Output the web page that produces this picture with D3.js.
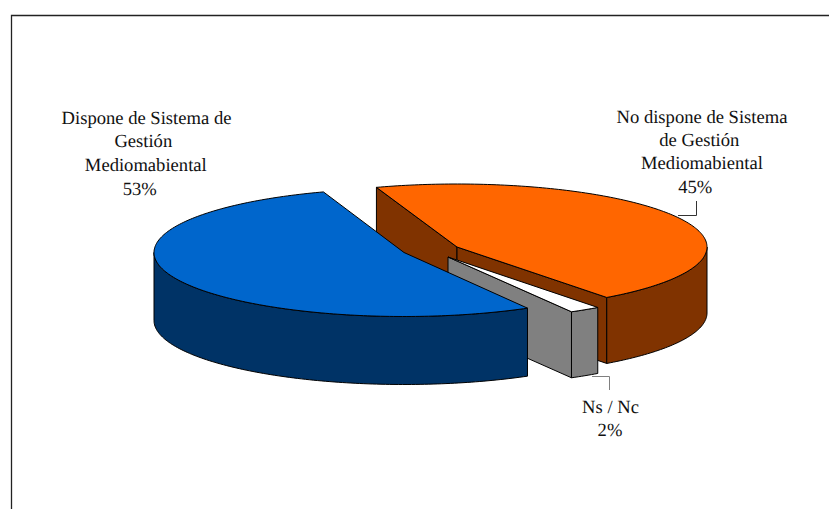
<!DOCTYPE html>
<html><head><meta charset="utf-8">
<script src="https://cdn.jsdelivr.net/npm/d3@7/dist/d3.min.js"></script>
<style>html,body{margin:0;background:#fff}svg{display:block}text{font-family:"Liberation Serif",serif;font-size:18.6px;fill:#111;text-rendering:geometricPrecision}</style>
</head><body><div id="c"></div>
<script>
const categories = ["No dispone", "Ns / Nc", "Dispone"];
const values = [45, 2, 53];
const labelLines = [
  ["No dispone de Sistema", "de Gestión", "Mediomabiental", "45%"],
  ["Ns / Nc", "2%"],
  ["Dispone de Sistema de", "Gestión", "Mediomabiental", "53%"]
];
const topColors = ["#FF6600", "#FFFFFF", "#0066CC"];
const wallColors = ["#803300", "#808080", "#003366"];

const W = 829, H = 509, rx = 250;
const centres = [[457, 247], [448, 257], [404, 252.5]];
const radiiY = [63, 63, 64];
const depths = [66, 66, 68];
const labelX = [[702, 699.3, 702, 695.3], [610.5, 610], [146.5, 143.3, 145.8, 139.7]];
const labelY = [122.8, 413, 123.5];
const lineSteps = [23.3, 23, 23.7];
const rad = Math.PI / 180;

const svg = d3.select("#c").append("svg").attr("width", W).attr("height", H);

// chart frame (runs off the right and bottom of the picture)
svg.append("path").attr("d", d3.line()([[11.5, H + 2], [11.5, 15.5], [W + 2, 15.5]]))
  .attr("fill", "none").attr("stroke", "#222").attr("stroke-width", 1.3);

const arcs = d3.pie().sort(null).startAngle(-18.8 * rad).endAngle(341.2 * rad)(values);

// each slice gets its own scales: unit-circle coordinates to pixels
const scales = centres.map(([cx, cy], i) => ({
  x: d3.scaleLinear().domain([-1, 1]).range([cx - rx, cx + rx]),
  y: d3.scaleLinear().domain([-1, 1]).range([cy - radiiY[i], cy + radiiY[i]])
}));
const pt = (i, ang, drop = 0) => [scales[i].x(Math.sin(ang)), scales[i].y(-Math.cos(ang)) + drop];
const rimAngles = (a0, a1) => { const n = Math.max(2, Math.ceil((a1 - a0) / (1 * rad))); return d3.range(n + 1).map(k => a0 + (a1 - a0) * k / n); };
const apex = (i, drop = 0) => [scales[i].x(0), scales[i].y(0) + drop];
const line = d3.line();
const closed = pts => line(pts) + "Z";

function shape(g, d, fill) {
  g.append("path").attr("d", d).attr("fill", fill).attr("stroke", "#000")
    .attr("stroke-width", 1).attr("stroke-linejoin", "round");
}
function cutWall(g, i, ang) {
  shape(g, closed([apex(i), pt(i, ang), pt(i, ang, depths[i]), apex(i, depths[i])]), wallColors[i]);
}
function rimWall(g, i, a0, a1) {
  const as = rimAngles(a0, a1);
  shape(g, closed([...as.map(a => pt(i, a)), ...as.slice().reverse().map(a => pt(i, a, depths[i]))]), wallColors[i]);
}
function topFace(g, i, a0, a1) {
  shape(g, closed([apex(i), ...rimAngles(a0, a1).map(a => pt(i, a))]), topColors[i]);
}

// painter's order: orange, then the small wedge, then blue in front
const order = [0, 1, 2];
order.forEach(i => {
  const g = svg.append("g").attr("class", "slice").attr("data-cat", categories[i]);
  const a0 = arcs[i].startAngle, a1 = arcs[i].endAngle;
  if (i === 0) { cutWall(g, i, a0); cutWall(g, i, a1); rimWall(g, i, 90 * rad, a1); }
  if (i === 1) { cutWall(g, i, a1); rimWall(g, i, a0, a1); }
  if (i === 2) { rimWall(g, i, a0, 270 * rad); }
  topFace(g, i, a0, a1);
});

// leader lines
const leaders = [[[678, 215.5], [696.5, 215.5], [696.5, 201]], [[592, 376.5], [609.5, 376.5], [609.5, 390]]];
const leaderColors = ["#333", "#808080"];
leaders.forEach((p, i) => svg.append("path").attr("d", line(p)).attr("fill", "none").attr("stroke", leaderColors[i]).attr("stroke-width", 1));

// labels
labelLines.forEach((ls, i) => {
  const t = svg.append("text").attr("text-anchor", "middle");
  ls.forEach((s, k) => t.append("tspan").attr("x", labelX[i][k]).attr("y", labelY[i] + k * lineSteps[i]).text(s));
});
</script></body></html>
